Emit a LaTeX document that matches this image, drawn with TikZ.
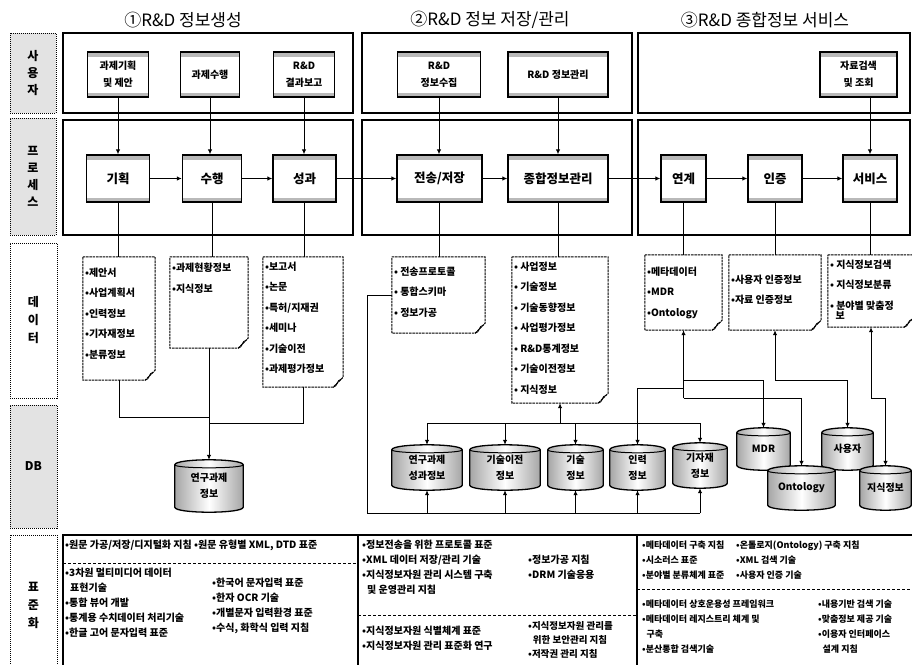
\documentclass[tikz,border=0pt]{standalone}
\usepackage{fontspec}
\usepackage{graphicx}
\setmainfont{Noto Sans CJK KR}
\usetikzlibrary{arrows.meta,calc}
\pgfdeclarelayer{bg}
\pgfdeclarelayer{base}
\pgfsetlayers{base,bg,main}
\tikzset{
  panel/.style={draw=black, line width=1.1pt},
  labfill/.style={draw=black, line width=1pt, densely dotted, fill=gray!22, align=center, inner sep=0pt, font=\bfseries\fontsize{12}{17}\selectfont},
  labwhite/.style={draw=black, line width=1pt, densely dotted, fill=white, align=center, inner sep=0pt, font=\bfseries\fontsize{12}{18}\selectfont},
  ttl/.style={font=\fontsize{17}{20}\selectfont, inner sep=0pt},
  gbox/.style={draw=black, line width=1.3pt, fill=white, align=center, inner sep=1pt,
    path picture={
      \fill[gray!55] (path picture bounding box.north west) rectangle ([yshift=-4.5pt]path picture bounding box.north east);
      \fill[gray!55] (path picture bounding box.south west) rectangle ([yshift=4.5pt]path picture bounding box.south east);}},
  ubox/.style={gbox, font=\bfseries\fontsize{10}{17}\selectfont},
  pbox/.style={gbox, font=\bfseries\fontsize{12.5}{15}\selectfont},
  ln/.style={draw=black, line width=1pt},
  arr/.style={ln, -{Latex[length=5pt,width=4.5pt]}},
  docshape/.style={inner sep=0pt, draw=none},
  docline/.style={draw=black, line width=1pt, dash pattern=on 2.5pt off 0.8pt},
  doctext/.style={inner sep=0pt, align=left, font=\bfseries\fontsize{10}{20.5}\selectfont},
  cylnode/.style={inner sep=0pt, align=center, font=\bfseries\fontsize{10}{16}\selectfont},
  cylbody/.style={draw=black, line width=1.3pt, left color=gray!70, right color=gray!70, middle color=white},
  std/.style={inner sep=0pt, align=left, anchor=north west, font=\bfseries\fontsize{10}{15}\selectfont},
  stdsmall/.style={std, font=\bfseries\fontsize{9}{15}\selectfont},
  sep/.style={draw=black, line width=0.8pt, dash pattern=on 3pt off 2pt},
}
% name x1 y1 x2 y2 textoffset items
\newcommand\mydoc[7]{%
  \pgfmathsetmacro\dcx{(#2+#4)/2}%
  \pgfmathsetmacro\dcy{(#3+#5)/2}%
  \pgfmathsetmacro\dw{#4-#2}%
  \pgfmathsetmacro\dh{#5-#3}%
  \node[docshape, minimum width=\dw pt, minimum height=\dh pt] (#1) at (\dcx,\dcy) {};
  \draw[docline] (#1.north west) -- (#1.north east) -- ([yshift=10pt]#1.south east)
     -- ([xshift=-10pt]#1.south east) -- (#1.south west) -- cycle;
  \draw[line width=0.9pt] ([xshift=-10pt]#1.south east) .. controls ([xshift=-5pt,yshift=1pt]#1.south east) and ([xshift=-7pt,yshift=7pt]#1.south east) .. ([xshift=-2pt,yshift=8pt]#1.south east);
  \node[doctext, anchor=north west] (#1t) at ([xshift=2pt,yshift=-#6pt]#1.north west) {#7};
}
% name cx cy w h text
\newcommand\mycyl[6]{%
  \node[cylnode, minimum width=#4pt, minimum height=#5pt] (#1) at (#2,#3) {#6};
  \begin{pgfonlayer}{bg}
   \path[cylbody] ([yshift=-5pt]#1.north west) -- ([yshift=5pt]#1.south west)
     .. controls ([yshift=-1.67pt]#1.south west) and ([yshift=-1.67pt]#1.south east) .. ([yshift=5pt]#1.south east)
     -- ([yshift=-5pt]#1.north east)
     .. controls ([yshift=1.67pt]#1.north east) and ([yshift=1.67pt]#1.north west) .. ([yshift=-5pt]#1.north west) -- cycle;
   \draw[line width=1pt] ([yshift=-5pt]#1.north west) .. controls ([yshift=-9pt]#1.north west) and ([yshift=-9pt]#1.north east) .. ([yshift=-5pt]#1.north east);
  \end{pgfonlayer}
}
\begin{document}
\begin{tikzpicture}[x=1pt,y=-1pt]
\useasboundingbox (0,0) rectangle (912,664);
\begin{pgfonlayer}{base}
\fill[white] (0,0) rectangle (912,664);
\end{pgfonlayer}

% titles
\node[ttl] (t1) at (183,20) {①R\&D 정보생성};
\node[ttl] (t2) at (490,20) {②R\&D 정보 저장/관리};
\node[ttl] (t3) at (765,20) {③R\&D 종합정보 서비스};

% row labels
\node[labfill, minimum width=46pt, minimum height=80pt] (L1) at (33,73) {사\\용\\자};
\node[labfill, minimum width=46pt, minimum height=117pt] (L2) at (33,176.5) {프\\로\\세\\스};
\node[labwhite, minimum width=47pt, minimum height=155pt] (L3) at (33.5,320.5) {데\\이\\터};
\node[labfill, minimum width=47pt, minimum height=123pt] (L4) at (33.5,466.5) {DB};
\node[labwhite, minimum width=47pt, minimum height=140pt, text depth=0pt] (L5) at (33.5,605) {표\\준\\화};

% panels
\draw[panel] (63,33) rectangle (353,113);
\draw[panel] (362,33) rectangle (632,113);
\draw[panel] (638,33) rectangle (910,113);
\draw[panel] (63,120) rectangle (353,235);
\draw[panel] (362,120) rectangle (632,235);
\draw[panel] (638,120) rectangle (910,235);

% user boxes
\node[ubox, minimum width=61pt, minimum height=45pt] (u1) at (118,74.5) {과제기획\\및 제안};
\node[ubox, minimum width=59pt, minimum height=45pt] (u2) at (210,74.5) {과제수행};
\node[ubox, minimum width=61pt, minimum height=45pt] (u3) at (304,74.5) {R\&D\\결과보고};
\node[ubox, minimum width=83pt, minimum height=45pt] (u4) at (439,74.5) {R\&D\\정보수집};
\node[ubox, minimum width=100pt, minimum height=45pt] (u5) at (558,74.5) {R\&D 정보관리};
\node[ubox, minimum width=77pt, minimum height=45pt] (u6) at (858.5,74.5) {자료검색\\및 조회};

% process boxes
\node[pbox, minimum width=63pt, minimum height=47pt] (p1) at (118,178.5) {기획};
\node[pbox, minimum width=59pt, minimum height=47pt] (p2) at (212,178.5) {수행};
\node[pbox, minimum width=63pt, minimum height=47pt] (p3) at (304.5,178.5) {성과};
\node[pbox, minimum width=85pt, minimum height=47pt] (p4) at (439.5,178.5) {전송/저장};
\node[pbox, minimum width=100pt, minimum height=47pt] (p5) at (558,178.5) {종합정보관리};
\node[pbox, minimum width=45pt, minimum height=47pt] (p6) at (683.5,178.5) {연계};
\node[pbox, minimum width=54pt, minimum height=47pt] (p7) at (775,178.5) {인증};
\node[pbox, minimum width=54pt, minimum height=47pt] (p8) at (870,178.5) {서비스};

% user -> process
\draw[arr] (u1.south) -- (u1.south |- p1.north);
\draw[arr] (u2.south) -- (u2.south |- p2.north);
\draw[arr] (u3.south) -- (u3.south |- p3.north);
\draw[arr] (u4.south) -- (u4.south |- p4.north);
\draw[arr] (u5.south) -- (u5.south |- p5.north);
\draw[arr] (p8.north |- u6.south) -- (p8.north);

% process flow
\draw[arr] (p1) -- (p2);
\draw[arr] (p2) -- (p3);
\draw[arr] (p3) -- (p4);
\draw[arr] (p4) -- (p5);
\draw[arr] (p5) -- (p6);
\draw[arr] (p6) -- (p7);
\draw[arr] (p7) -- (p8);

% data documents
\mydoc{d1}{83}{257}{155}{380}{11}{•제안서\\•사업계획서\\•인력정보\\•기자재정보\\•분류정보}
\mydoc{d2}{170}{257}{248}{348}{6}{•과제현황정보\\•지식정보}
\mydoc{d3}{263}{257}{343}{387}{5}{•보고서\\•논문\\•특허/지재권\\•세미나\\•기술이전\\•과제평가정보}
\mydoc{d4}{392}{257}{485}{333}{10}{• 전송프로토콜\\• 통합스키마\\• 정보가공}
\mydoc{d5}{512}{257}{608}{403}{5}{• 사업정보\\• 기술정보\\• 기술동향정보\\• 사업평가정보\\• R\&D통계정보\\• 기술이전정보\\• 지식정보}
\mydoc{d6}{645}{255}{722}{330}{12}{•메타데이터\\•MDR\\•Ontology}
\mydoc{d7}{729}{255}{821}{330}{20}{•사용자 인증정보\\•자료 인증정보}
\mydoc{d8}{828}{255}{914}{327}{5}{• 지식정보검색\\• 지식정보분류\\• 분야별 맞춤정\\[-10pt]\hspace*{0.55em}보}

% process -> documents
\foreach \p/\d in {p1/d1,p2/d2,p3/d3,p4/d4,p5/d5,p6/d6,p7/d7,p8/d8}
  \draw[ln] (\p.south) -- (\p.south |- \d.north);

% DB cylinders
\mycyl{c0}{209}{486}{68}{52}{연구과제\\정보}
\mycyl{c1}{427}{467.5}{70}{45}{연구과제\\성과정보}
\mycyl{c2}{505}{467.5}{70}{45}{기술이전\\정보}
\mycyl{c3}{575.5}{467.5}{55}{45}{기술\\정보}
\mycyl{c4}{637.5}{467.5}{55}{45}{인력\\정보}
\mycyl{c5}{700}{465.5}{54}{45}{기자재\\정보}
\mycyl{c6}{763.5}{449}{53}{42}{MDR}
\mycyl{c7}{847.5}{449}{51}{42}{사용자}
\mycyl{c8}{801.5}{488}{67}{44}{Ontology}
\mycyl{c9}{885.5}{488}{51}{44}{지식정보}

% left DB connectors
\coordinate (yA) at (0,417);
\coordinate (yB) at (0,423);
\draw[ln] (d1.south) |- (c0.north |- yA);
\draw[arr] (d2.south) -- (c0.north);
\draw[ln] (d3.south) |- (c0.north |- yB);

% middle DB connectors
\coordinate (tb) at (0,423);
\coordinate (bb) at (367,513);
\draw[ln] (c1.north |- tb) -- (c5.north |- tb);
\foreach \c in {c1,c2,c3,c5}
  \draw[arr] (\c.north |- tb) -- (\c.north);
\draw[arr] (d5.south |- tb) -- (d5.south);
\draw[ln] (d4.west) -| (bb) -- (c5.south |- bb);
\foreach \c in {c1,c2,c3,c4,c5}
  \draw[arr] (\c.south |- bb) -- (\c.south);

% right DB connectors
\coordinate (r1) at (0,380);
\coordinate (r2) at (0,388);
\coordinate (r3) at (0,398);
\draw[arr] (d6.south |- r3) -- (d6.south);
\draw[arr] (d6.south |- r1) -| (c6.north);
\draw[arr] (d6.south |- r2) -| (c4.north);
\draw[arr] (d6.south |- r3) -| (c8.north);
\draw[arr] (d7.south |- r1) -- (d7.south);
\draw[arr] (d7.south |- r1) -| (c7.north);
\draw[arr] (d8.south |- r3) -- (d8.south);
\draw[arr] (d8.south |- r3) -| (c9.north);

% standards panels
\draw[panel] (63,535) rectangle (915,670);
\draw[panel] (358,535) -- (358,670);
\draw[panel] (637,535) -- (637,670);
\draw[sep] (63,563) -- (358,563);
\draw[sep] (358,615) -- (637,615);
\draw[sep] (637,589) -- (912,589);

\node[std] (s1) at (65,540) {•원문 가공/저장/디지털화 지침 •원문 유형별 XML, DTD 표준};
\node[std] (s2) at (65,568) {•3차원 멀티미디어 데이터\\\hspace*{0.5em}표현기술\\•통합 뷰어 개발\\•통계용 수치데이터 처리기술\\•한글 고어 문자입력 표준};
\node[std] (s3) at (212,578) {•한국어 문자입력 표준\\•한자 OCR 기술\\•개별문자 입력환경 표준\\•수식, 화학식 입력 지침};
\node[std] (s4) at (362,540) {•정보전송을 위한 프로토콜 표준\\•XML 데이터 저장/관리 기술\\•지식정보자원 관리 시스템 구축\\\hspace*{0.5em}및 운영관리 지침};
\node[std] (s5) at (528,555) {•정보가공 지침\\•DRM 기술응용};
\node[std] (s6) at (362,626) {•지식정보자원 식별체계 표준\\•지식정보자원 관리 표준화 연구};
\node[std, font=\bfseries\fontsize{9.5}{14}\selectfont] (s7) at (528,621) {•지식정보자원 관리를\\\hspace*{0.5em}위한 보안관리 지침\\•저작권 관리 지침};
\node[stdsmall] (s8) at (642,540.5) {•메타데이터 구축 지침\\•시소러스 표준\\•분야별 분류체계 표준};
\node[stdsmall] (s9) at (736,540.5) {•온톨로지(Ontology) 구축 지침\\•XML 검색 기술\\•사용자 인증 기술};
\node[stdsmall] (s10) at (642,599.5) {•메타데이터 상호운용성 프레임워크\\•메타데이터 레지스트리 체계 및\\\hspace*{0.5em}구축\\•분산통합 검색기술};
\node[stdsmall] (s11) at (818,599.5) {•내용기반 검색 기술\\•맞춤정보 제공 기술\\•이용자 인터페이스\\\hspace*{0.5em}설계 지침};
\end{tikzpicture}
\end{document}
